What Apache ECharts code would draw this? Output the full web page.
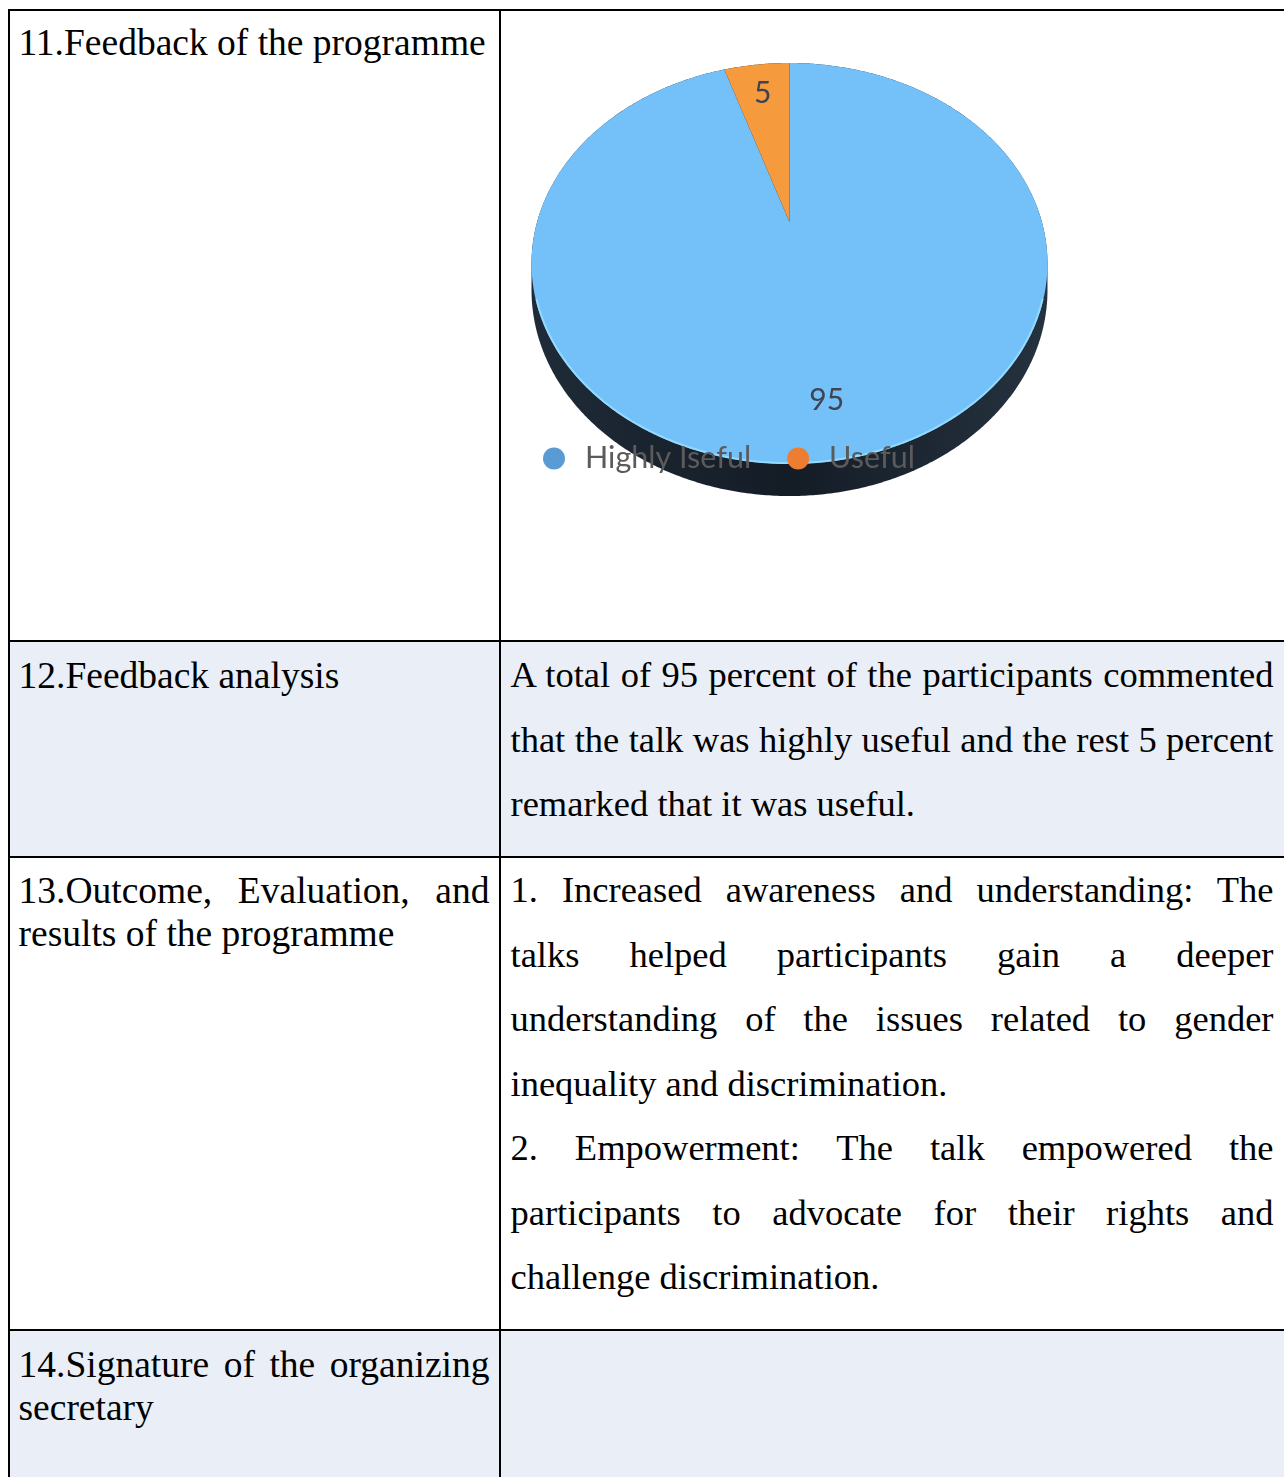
<!DOCTYPE html>
<html><head><meta charset="utf-8">
<script src="https://cdn.jsdelivr.net/npm/echarts@6/dist/echarts.min.js"></script>
<style>
html,body{margin:0;padding:0;background:#fff;width:1284px;height:1477px;overflow:hidden;}
#page{position:relative;width:1284px;height:1477px;overflow:hidden;}
.ln{position:absolute;font-family:"Liberation Serif","Times New Roman",serif;color:#000;line-height:1;white-space:normal;}
.j{text-align:justify;text-align-last:justify;}
.b{position:absolute;background:#000;}
.sh{position:absolute;background:#e9eef7;}
#chart{position:absolute;left:501px;top:11px;width:783px;height:629px;}
</style></head>
<body><div id="page"><div id="chart"></div></div>
<script>
// ---- chart data ----
const categories = ['Highly Iseful', 'Useful'];
const values = [95, 5];
const sliceColors = ['#74c1f9', '#f59a3d'];
const legendColors = ['#5b9bd5', '#ed7d31'];

// ---- document table text ----
const leftLines = [
  {row: 0, lines: [['11.Feedback of the programme', false]]},
  {row: 1, lines: [['12.Feedback analysis', false]]},
  {row: 2, lines: [['13.Outcome, Evaluation, and', true], ['results of the programme', false]]},
  {row: 3, lines: [['14.Signature of the organizing', true], ['secretary', false]]}
];
const rightLines = [
  {row: 1, lines: [
    ['A total of 95 percent of the participants commented', true],
    ['that the talk was highly useful and the rest 5 percent', true],
    ['remarked that it was useful.', false]]},
  {row: 2, lines: [
    ['1. Increased awareness and understanding: The', true],
    ['talks helped participants gain a deeper', true],
    ['understanding of the issues related to gender', true],
    ['inequality and discrimination.', false],
    ['2. Empowerment: The talk empowered the', true],
    ['participants to advocate for their rights and', true],
    ['challenge discrimination.', false]]}
];

const page = document.getElementById('page');
const firstBase = [55, 688, 903, 1377];

function box(cls, x, y, w, h) {
  const d = document.createElement('div');
  d.className = cls;
  d.style.left = x + 'px'; d.style.top = y + 'px';
  d.style.width = w + 'px'; d.style.height = h + 'px';
  page.insertBefore(d, document.getElementById('chart'));
  return d;
}
// shading
box('sh', 10, 642, 1274, 214);
box('sh', 10, 1331, 1274, 146);

function addLine(text, x, base, w, fs, just) {
  const d = document.createElement('div');
  d.className = 'ln' + (just ? ' j' : '');
  d.style.left = x + 'px';
  d.style.top = (base - 0.8375 * fs) + 'px';
  d.style.width = w + 'px';
  d.style.fontSize = fs + 'px';
  d.textContent = text;
  page.insertBefore(d, document.getElementById('chart'));
}
leftLines.forEach(c => c.lines.forEach((l, i) => addLine(l[0], 18.5, firstBase[c.row] + i * 43, 471, 37.5, l[1])));
rightLines.forEach(c => c.lines.forEach((l, i) => addLine(l[0], 510.5, firstBase[c.row] + i * 64.5, 763, 36.5, l[1])));

// borders
box('b', 8, 9, 1276, 2);
box('b', 8, 9, 2, 1468);
box('b', 499, 9, 2, 1468);
box('b', 8, 640, 1276, 2);
box('b', 8, 856, 1276, 2);
box('b', 8, 1329, 1276, 2);

// ---- 3D-looking pie with custom series ----
const CX = 288.5, CY0 = 211, H = 191.9, K = 0.207, W = 252.4, T = 25.4;
function proj(theta, r, dz) {
  const u = r * Math.sin(theta), v = r * Math.cos(theta);
  const d = 1 + K * v;
  return [CX + W * u / d, CY0 - H * v / d + T * dz / d];
}
const total = values.reduce((a, b) => a + b, 0);
const cum = values.map((v, i) => values.slice(0, i).reduce((a, b) => a + b, 0));

function arcPts(a0, a1, r, dz) {
  const pts = [];
  const n = Math.max(2, Math.ceil(Math.abs(a1 - a0) / (Math.PI / 360)));
  for (let s = 0; s <= n; s++) pts.push(proj(a0 + (a1 - a0) * s / n, r, dz));
  return pts;
}

const thR = Math.acos(-K);
const sideSeries = {
  type: 'custom', name: 'side', coordinateSystem: 'none', silent: true,
  data: [[total]],
  renderItem: function () {
    const pts = arcPts(thR, 2 * Math.PI - thR, 1, 1).concat(arcPts(2 * Math.PI - thR, 2 * Math.PI + thR, 1, 0));
    return {type: 'polygon', shape: {points: pts}, style: {
      fill: new echarts.graphic.LinearGradient(0, 0, 1, 0, [
        {offset: 0, color: '#1f2b38'}, {offset: 0.5, color: '#141c26'}, {offset: 1, color: '#25323f'}])
    }};
  }
};

const sliceSeries = categories.map((name, i) => ({
  type: 'custom', name: name, coordinateSystem: 'none', silent: true,
  itemStyle: {color: legendColors[i]},
  data: [{name: name, value: values[i]}],
  renderItem: function (params, api) {
    const v = api.value(0);
    const a0 = 2 * Math.PI * cum[i] / total;
    const a1 = 2 * Math.PI * (cum[i] + v) / total;
    const pts = [proj(0, 0, 0)].concat(arcPts(a0, a1, 1, 0));
    const mid = (a0 + a1) / 2;
    const lp = proj(mid, 0.79, 0);
    const children = [
      {type: 'polygon', shape: {points: pts}, style: {fill: sliceColors[i]}}
    ];
    // light rim along the front edge of the top face
    const r0 = Math.max(a0, 1.95), r1 = Math.min(a1, 2 * Math.PI - 1.95);
    if (r1 > r0) children.push({type: 'polyline', shape: {points: arcPts(r0, r1, 0.997, 0)},
      style: {fill: null, stroke: 'rgba(150,222,255,0.9)', lineWidth: 2}});
    children.push({type: 'text', style: {text: String(v), x: lp[0], y: lp[1],
      align: 'center', verticalAlign: 'middle', fontSize: 30, fontFamily: 'Lato', fill: '#3f4452'}});
    return {type: 'group', children: children};
  }
}));

const chart = echarts.init(document.getElementById('chart'), null, {renderer: 'canvas'});
chart.setOption({
  animation: false,
  legend: {
    data: categories.map((n, i) => ({name: n, itemStyle: {color: legendColors[i]}})),
    icon: 'circle', itemWidth: 52, itemHeight: 22, itemGap: 36,
    left: 37, top: 427,
    textStyle: {fontSize: 30.5, fontFamily: 'Lato', color: '#5b5b5b'},
    selectedMode: false
  },
  series: [sideSeries].concat(sliceSeries)
});
</script>
</body></html>
